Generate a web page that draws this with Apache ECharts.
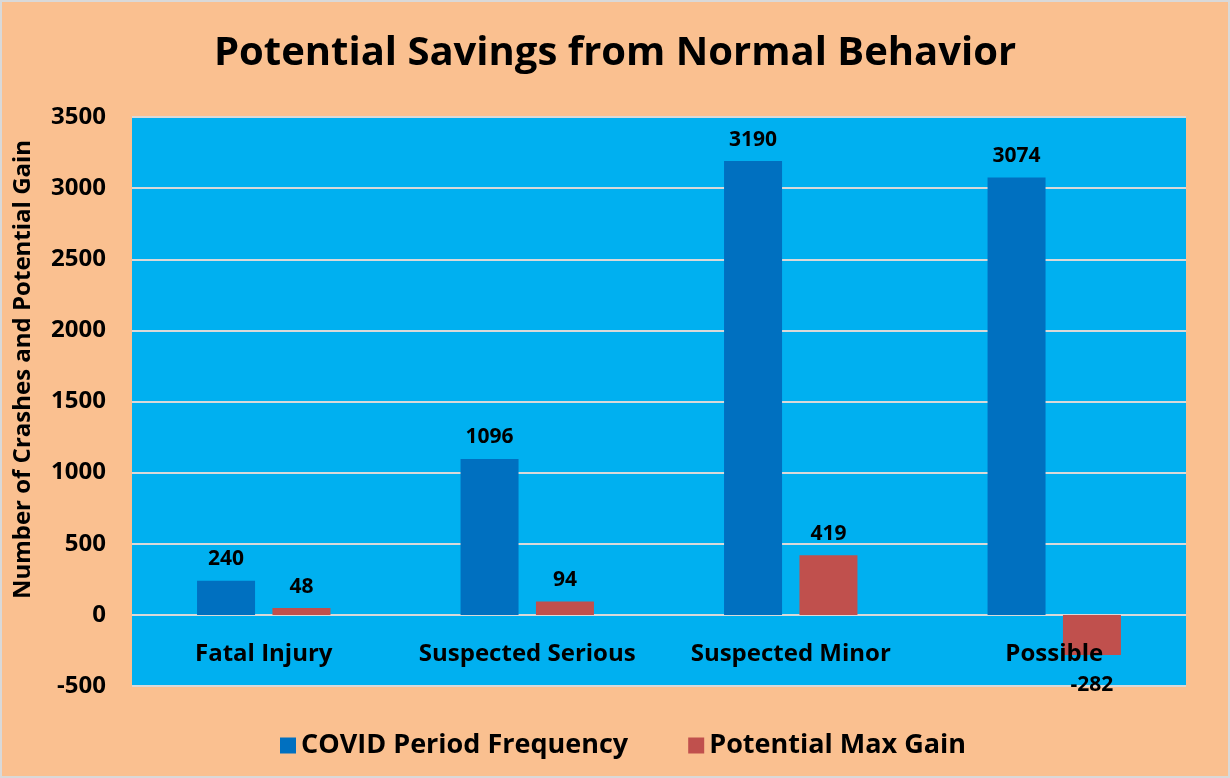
<!DOCTYPE html>
<html>
<head>
<meta charset="utf-8">
<script src="https://cdn.jsdelivr.net/npm/echarts@6/dist/echarts.min.js"></script>
<style>
  html, body { margin: 0; padding: 0; }
  #chart { width: 1230px; height: 778px; box-sizing: border-box; border: 2px solid #d9d9d9; }
</style>
</head>
<body>
<div id="chart"></div>
<script>
var categories = ['Fatal Injury', 'Suspected Serious', 'Suspected Minor', 'Possible'];
var covidFrequency = [240, 1096, 3190, 3074];
var potentialMaxGain = [48, 94, 419, -282];
var legendNames = ['COVID Period Frequency', 'Potential Max Gain'];

var font = '"Open Sans", "Liberation Sans", sans-serif';

var chart = echarts.init(document.getElementById('chart'));

var option = {
  backgroundColor: '#FAC090',
  title: {
    text: 'Potential Savings from Normal Behavior',
    left: 'center',
    top: 27,
    textStyle: { fontFamily: font, fontSize: 40, fontWeight: 'bold', color: '#000' }
  },
  legend: {
    data: legendNames,
    bottom: 12,
    left: 273,
    itemWidth: 16,
    itemHeight: 16,
    itemGap: 60,
    icon: 'rect',
    textStyle: { fontFamily: font, fontSize: 27, fontWeight: 'bold', color: '#000' }
  },
  grid: {
    left: 130,
    right: 42,
    top: 115,
    bottom: 90,
    show: true,
    backgroundColor: '#00B0F0',
    borderWidth: 0
  },
  xAxis: {
    type: 'category',
    data: categories,
    z: 10,
    axisLine: { show: false },
    axisTick: { show: false },
    axisLabel: {
      inside: true,
      interval: 0,
      hideOverlap: false,
      fontFamily: font, fontSize: 24, fontWeight: 'bold', color: '#000', margin: 20
    }
  },
  yAxis: {
    type: 'value',
    min: -500,
    max: 3500,
    interval: 500,
    name: 'Number of Crashes and Potential Gain',
    nameLocation: 'middle',
    nameGap: 97,
    nameTextStyle: {
      fontFamily: font, fontSize: 24, fontWeight: 'bold', color: '#000',
      padding: [0, 0, 0, 64]
    },
    axisLine: { show: false },
    axisTick: { show: false },
    axisLabel: {
      fontFamily: font, fontSize: 24, fontWeight: 'bold', color: '#000', margin: 26,
      formatter: function (v) { return String(v); }
    },
    splitLine: { lineStyle: { color: '#D9D9D9', width: 2 } }
  },
  series: [
    {
      name: legendNames[0],
      type: 'bar',
      data: covidFrequency,
      barWidth: 58,
      barGap: '30%',
      itemStyle: { color: '#0070C0' },
      label: {
        show: true, position: 'top', distance: 11,
        fontFamily: font, fontSize: 21, fontWeight: 'bold', color: '#000'
      }
    },
    {
      name: legendNames[1],
      type: 'bar',
      data: potentialMaxGain.map(function (v) {
        return v < 0 ? { value: v, label: { position: 'bottom', distance: 20 } } : v;
      }),
      barWidth: 58,
      barGap: '30%',
      itemStyle: { color: '#C0504D' },
      label: {
        show: true, position: 'top', distance: 11,
        fontFamily: font, fontSize: 21, fontWeight: 'bold', color: '#000'
      }
    }
  ]
};

chart.setOption(option);
window.addEventListener('resize', function () { chart.resize(); });
</script>
</body>
</html>
